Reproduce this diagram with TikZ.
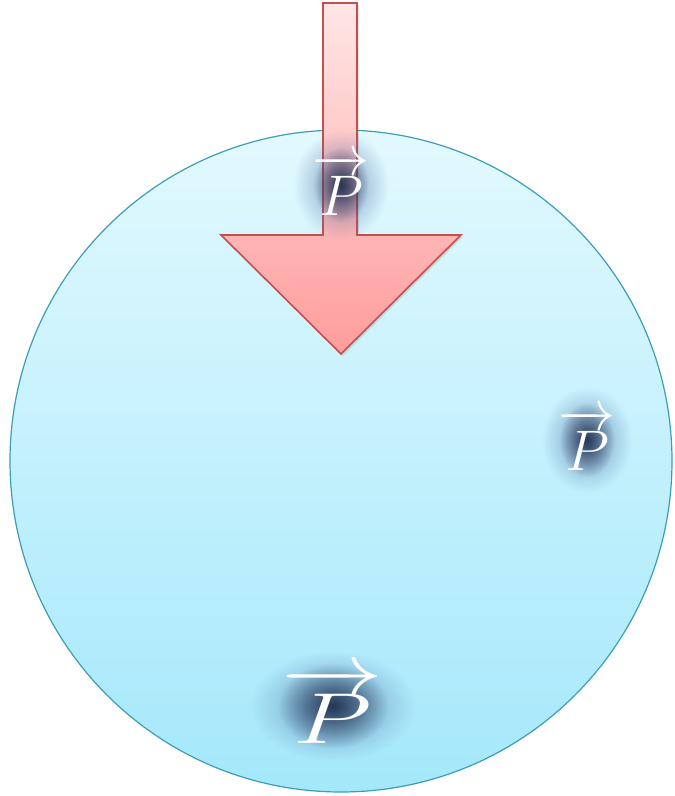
\documentclass[tikz,border=0pt]{standalone}
\usepackage{amsmath}
\usepackage{graphicx}
\usetikzlibrary{fadings,shadows}

\definecolor{disctop}{HTML}{E2F9FE}
\definecolor{discbot}{HTML}{A4E8FB}
\definecolor{discline}{HTML}{3C9DB5}
\definecolor{forcetop}{HTML}{FFE6E6}
\definecolor{forcebot}{HTML}{FF9C9C}
\definecolor{forceline}{HTML}{C4504D}
\definecolor{halo}{HTML}{4A68A0}
\definecolor{glowink}{HTML}{14203C}

\tikzfading[name=halofade, inner color=transparent!35, outer color=transparent!100]
\tikzfading[name=corefade, inner color=transparent!20, outer color=transparent!100]

% vector P at a large size: #1 horizontal, #2 vertical factor
\newcommand{\forcesym}[2]{\scalebox{#1}[#2]{\Huge$\overrightarrow{P}$}}

\begin{document}
\begin{tikzpicture}[x=1pt, y=1pt,
  disc/.style={draw=discline, line width=1.2pt, top color=disctop, bottom color=discbot},
  force/.style={draw=forceline, line width=1.6pt, line join=miter, top color=forcetop, bottom color=forcebot,
    drop shadow={opacity=0.2, shadow xshift=2pt, shadow yshift=-2pt}},
  haloblob/.style={fill=halo, path fading=halofade, inner sep=0pt},
  coreblob/.style={fill=glowink, path fading=corefade, inner sep=0pt},
  plabel/.style={text=white, inner sep=0pt}
]
\useasboundingbox (0,0) rectangle (675,796);

% body and applied force
\node[disc, circle, minimum size=662pt, inner sep=0pt] (globe) at (341,335) {};
\path[force] (323,793) -- (323,561) -- (221,561) -- (341,442) -- (461,561) -- (357,561) -- (357,793) -- cycle;

% force labels
\node[haloblob, minimum width=95pt, minimum height=110pt] (halotop) at (341,611) {};
\node[coreblob, minimum width=55pt, minimum height=75pt] at (halotop) {};
\node[haloblob, minimum width=90pt, minimum height=105pt] (haloright) at (587,356) {};
\node[coreblob, minimum width=55pt, minimum height=75pt] at (haloright) {};
\node[haloblob, minimum width=165pt, minimum height=110pt] (halobottom) at (333,90) {};
\node[coreblob, minimum width=110pt, minimum height=85pt] at (halobottom) {};

\node[plabel] (ptop) at (halotop) {\forcesym{2.3}{2.3}};
\node[plabel] (pright) at (haloright) {\forcesym{2.3}{2.3}};
\node[plabel] (pbottom) at (halobottom) {\forcesym{4.1}{2.9}};
\end{tikzpicture}
\end{document}
